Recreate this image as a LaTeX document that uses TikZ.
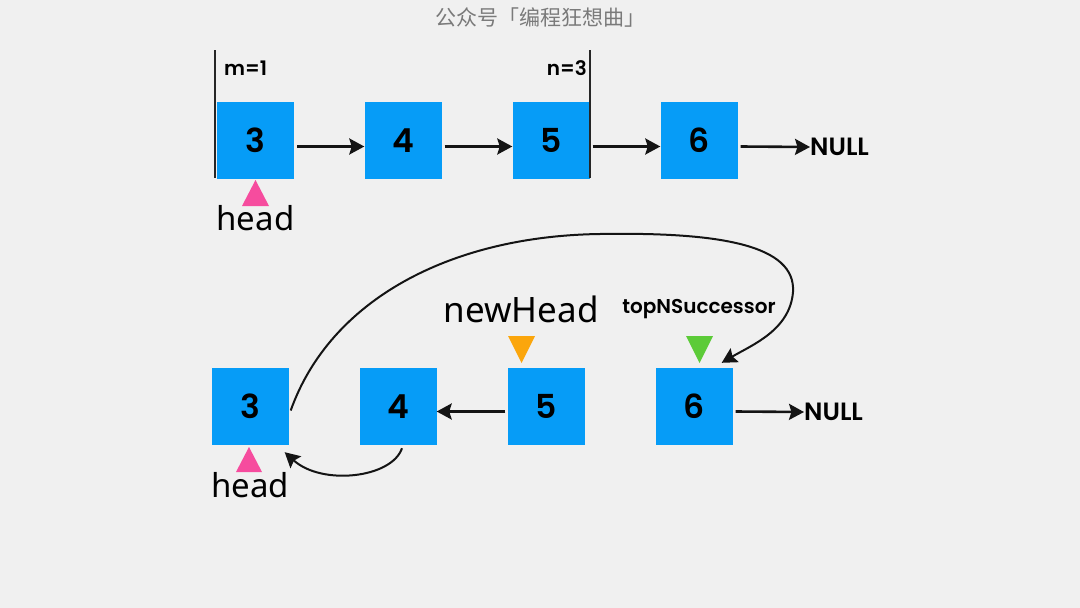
\documentclass[tikz,border=0pt]{standalone}
\usepackage{fontspec}
\setmainfont{Noto Sans}
\newfontfamily\popp{Poppins SemiBold}
\newfontfamily\cjk{Noto Sans CJK SC}
\usetikzlibrary{arrows.meta,calc}
\definecolor{bg}{HTML}{F0F0F0}
\definecolor{boxblue}{HTML}{069CF7}
\definecolor{pinkc}{HTML}{F64C9E}
\definecolor{orangec}{HTML}{FBA60C}
\definecolor{greenc}{HTML}{5CCB38}
\definecolor{titlegray}{HTML}{7A7A7A}
\tikzset{
  listbox/.style={fill=boxblue, minimum width=77pt, minimum height=77pt, inner sep=0pt,
    font=\popp\fontsize{33}{33}\selectfont},
  arr/.style={line width=2.6pt, draw=black!92, -{Stealth[length=15pt,width=16pt,inset=2.5pt]}},
  curvarr/.style={line width=2pt, draw=black!92, -{Stealth[length=15pt,width=16pt,inset=2.5pt]}},
  bigtxt/.style={font=\fontsize{33}{33}\selectfont, inner sep=0pt},
  smalltxt/.style={font=\popp\fontsize{20}{20}\selectfont, inner sep=0pt},
  nulltxt/.style={font=\popp\fontsize{25}{25}\selectfont, inner sep=0pt, anchor=west},
  bar/.style={line width=2pt, draw=black!85}
}
\begin{document}
\begin{tikzpicture}[x=1pt,y=-1pt]
\fill[bg] (0,0) rectangle (1080,608);
\useasboundingbox (0,0) rectangle (1080,608);
\node[font=\cjk\fontsize{21}{21}\selectfont, text=titlegray] (title) at (540,18) {公众号「编程狂想曲」};

% top row
\node[listbox] (t3) at (255.5,140.5) {3};
\node[listbox] (t4) at (403,140.5) {4};
\node[listbox] (t5) at (551,140.5) {5};
\node[listbox] (t6) at (699,140.5) {6};
\node[nulltxt] (tnull) at (810,147) {NULL};
\draw[arr] ([shift={(3,6)}]t3.east) -- ([shift={(0,6)}]t4.west);
\draw[arr] ([shift={(3,6)}]t4.east) -- ([shift={(0,6)}]t5.west);
\draw[arr] ([shift={(3,6)}]t5.east) -- ([shift={(0,6)}]t6.west);
\draw[arr] ([shift={(3,6)}]t6.east) -- (tnull.west);
\draw[bar] (215,50) -- (215,178);
\draw[bar] (590,50) -- (590,178);
\node[smalltxt, anchor=west] (m) at (224,68) {m=1};
\node[smalltxt, anchor=east] (n) at (587,68) {n=3};
\fill[pinkc] (255.5,180) -- (269,206) -- (242,206) -- cycle;
\node[bigtxt] (thead) at (255.5,218) {head};

% bottom row
\node[listbox] (l3) at (250,406.5) {3};
\node[listbox] (l4) at (398,406.5) {4};
\node[listbox] (l5) at (546,406.5) {5};
\node[listbox] (l6) at (694,406.5) {6};
\node[nulltxt] (lnull) at (804,412) {NULL};
\draw[arr] ([shift={(-2,5)}]l5.west) -- ([shift={(0,5)}]l4.east);
\draw[arr] ([shift={(3,5)}]l6.east) -- (lnull.west);
\fill[pinkc] (249,447) -- (262,472) -- (236,472) -- cycle;
\node[bigtxt] (lhead) at (250,485) {head};
\fill[orangec] (508,336) -- (535,336) -- (521.5,363) -- cycle;
\fill[greenc] (686,336) -- (713,336) -- (699.5,363) -- cycle;
\node[bigtxt, font=\fontsize{35}{35}\selectfont] (nh) at (521,309) {newHead};
\node[smalltxt] (tns) at (699,309) {topNSuccessor};

\coordinate (c1s) at ([shift={(2,4)}]l3.east);
\coordinate (c1e) at ([shift={(-11,-5)}]l6.north east);
\draw[curvarr] (c1s) .. controls (330,300) and (450,236) .. (600,234)
  .. controls (720,232) and (796,245) .. (793,292)
  .. controls (790,330) and (752,345) .. (c1e);
\coordinate (c2s) at ([shift={(4,3)}]l4.south);
\coordinate (c2e) at ([shift={(-4,7)}]l3.south east);
\draw[curvarr] (c2s) .. controls (392,478) and (322,486) .. (c2e);
\end{tikzpicture}
\end{document}
